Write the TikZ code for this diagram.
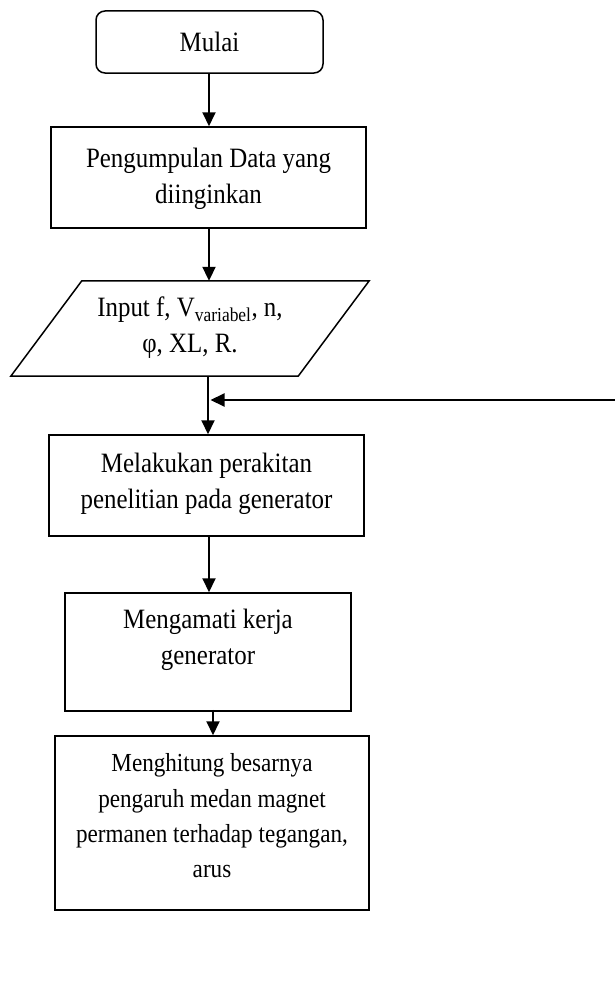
\documentclass[tikz,border=0pt]{standalone}
\usepackage{fontspec}
\setmainfont{Liberation Serif}[FakeStretch=0.89]
\usetikzlibrary{arrows.meta,calc}
\begin{document}
\begin{tikzpicture}[x=1pt,y=-1pt,
  box/.style={draw, line width=1.5pt, inner sep=0pt},
  txt/.style={align=center, inner sep=0pt, font=\fontsize{28}{35.5}\selectfont},
  smalltxt/.style={align=center, inner sep=0pt, font=\fontsize{26}{35.3}\selectfont},
  arr/.style={line width=2pt, -{Triangle[width=13pt,length=14pt]}}]
\useasboundingbox (0,0) rectangle (615,998);

% boxes
\node[box, rounded corners=9pt, minimum width=227pt, minimum height=62pt] (b1) at (209.5,42) {};
\node[txt] (t1) at (209.5,42) {Mulai};

\node[box, minimum width=315pt, minimum height=101pt] (b2) at (208.5,177.5) {};
\node[txt] (t2) at (208.5,179) {Pengumpulan Data yang\\diinginkan};

\node[minimum width=358pt, minimum height=95pt, inner sep=0pt] (inp) at (190,328.5) {};
\draw[line width=1.5pt] ($(inp.north west)+(71,0)$) -- (inp.north east)
  -- ($(inp.south east)-(71,0)$) -- (inp.south west) -- cycle;
\node[txt] (t3) at (190,327.5) {Input f, V\textsubscript{variabel}, n,\\φ, XL, R.};

\node[box, minimum width=315pt, minimum height=101pt] (b3) at (206.5,485.5) {};
\node[txt] (t4) at (206.5,484) {Melakukan perakitan\\penelitian pada generator};

\node[box, minimum width=286pt, minimum height=118pt] (b4) at (208,652) {};
\node[txt] (t5) at (208,640) {Mengamati kerja\\generator};

\node[box, minimum width=314pt, minimum height=174pt] (b5) at (212,823) {};
\node[smalltxt] (t6) at (212,816) {Menghitung besarnya\\pengaruh medan magnet\\permanen terhadap tegangan,\\arus};

% connectors
\coordinate (c1) at (209,0);
\draw[arr] (b1.south -| c1) -- (b2.north -| c1);
\draw[arr] (b2.south -| c1) -- (inp.north -| c1);
\coordinate (c2) at (208,0);
\draw[arr] (inp.south -| c2) -- (b3.north -| c2);
\coordinate (fb) at (615,400);
\coordinate (fbend) at (210.5,400);
\draw[arr] (fb) -- (fbend);
\draw[arr] (b3.south -| c1) -- (b4.north -| c1);
\coordinate (c3) at (213,0);
\draw[arr] ($(b4.south -| c3)+(0,-2)$) -- (b5.north -| c3);
\end{tikzpicture}
\end{document}
